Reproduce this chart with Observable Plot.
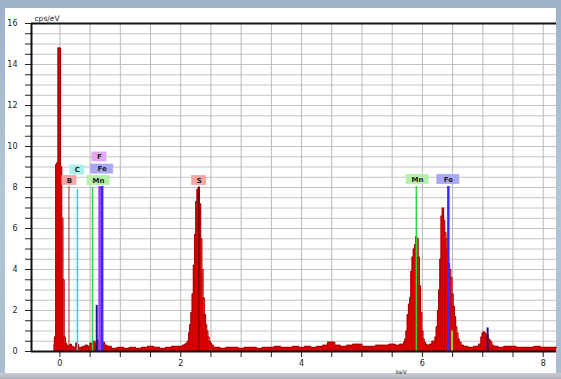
<!DOCTYPE html>
<html>
<head>
<meta charset="utf-8">
<script src="https://cdn.jsdelivr.net/npm/d3@7"></script>
<script src="https://cdn.jsdelivr.net/npm/@observablehq/plot@0.6"></script>
<style>
  html, body { margin: 0; padding: 0; }
  body { width: 561px; height: 379px; overflow: hidden; position: relative;
         background: linear-gradient(180deg, #9db2c9 0%, #b4c5d6 50%, #a9bccf 100%); font-family: "DejaVu Sans", sans-serif; }
  #panel { position: absolute; left: 5px; top: 8px; width: 551px; height: 365px; background: #ffffff; }
  #chart { position: absolute; left: 0; top: 0; }
  #bottombar { position: absolute; left: 0; top: 373px; width: 561px; height: 6px; background: linear-gradient(180deg, #c9cdd2, #aeb4bb); }
</style>
</head>
<body>
<div id="panel"></div>
<div id="bottombar"></div>
<div id="chart"></div>
<script>
// ---- data (keV, cps/eV) ----
const noisePeak = [
  [-0.10, 0.3], [-0.08, 0.7], [-0.06, 9.1], [-0.04, 9.2], [-0.02, 14.8], [0.00, 14.8],
  [0.02, 9.0], [0.04, 6.5], [0.06, 3.5], [0.08, 0.7], [0.10, 0.4]
];
const lowEnergy = [
  [0.12, 0.3], [0.14, 0.25], [0.16, 0.3], [0.18, 0.35], [0.20, 0.25], [0.24, 0.2],
  [0.28, 0.4], [0.30, 0.35], [0.32, 0.2], [0.36, 0.2], [0.40, 0.25], [0.44, 0.3],
  [0.48, 0.25], [0.52, 0.4], [0.56, 0.5], [0.60, 0.4], [0.64, 0.55], [0.68, 0.6],
  [0.72, 0.45], [0.76, 0.3], [0.80, 0.25], [0.90, 0.15], [1.00, 0.2], [1.10, 0.15],
  [1.20, 0.2], [1.30, 0.15], [1.40, 0.2], [1.50, 0.25], [1.60, 0.2], [1.70, 0.15],
  [1.80, 0.2], [1.90, 0.25], [2.00, 0.25]
];
const sulfurPeak = [
  [2.06, 0.3], [2.08, 0.35], [2.10, 0.4], [2.12, 0.5], [2.14, 0.9], [2.16, 1.3],
  [2.18, 1.9], [2.20, 2.8], [2.22, 4.2], [2.24, 5.7], [2.26, 7.3], [2.28, 7.9],
  [2.30, 8.0], [2.32, 7.2], [2.34, 5.5], [2.36, 4.0], [2.38, 2.6], [2.40, 1.8],
  [2.42, 1.3], [2.44, 1.0], [2.46, 0.7], [2.48, 0.5], [2.50, 0.4], [2.52, 0.3], [2.56, 0.2]
];
const midBackground = [
  [2.6, 0.2], [2.7, 0.15], [2.8, 0.2], [2.9, 0.2], [3.0, 0.15], [3.1, 0.2], [3.2, 0.2],
  [3.3, 0.15], [3.4, 0.2], [3.5, 0.2], [3.6, 0.25], [3.7, 0.2], [3.8, 0.2], [3.9, 0.25],
  [4.0, 0.2], [4.1, 0.25], [4.2, 0.2], [4.3, 0.25], [4.4, 0.3], [4.46, 0.45], [4.52, 0.45],
  [4.58, 0.3], [4.7, 0.25], [4.8, 0.3], [4.9, 0.35], [4.96, 0.35], [5.04, 0.25], [5.15, 0.25],
  [5.3, 0.3], [5.4, 0.3], [5.5, 0.35], [5.6, 0.3], [5.65, 0.35]
];
const manganesePeak = [
  [5.68, 0.35], [5.70, 0.45], [5.72, 0.6], [5.74, 1.0], [5.76, 1.8], [5.78, 2.3],
  [5.80, 2.6], [5.82, 3.9], [5.84, 4.6], [5.86, 5.0], [5.88, 5.2], [5.90, 5.6],
  [5.92, 5.5], [5.94, 4.6], [5.96, 3.2], [5.98, 1.9], [6.00, 1.0], [6.02, 0.6],
  [6.04, 0.45], [6.06, 0.35], [6.10, 0.3], [6.14, 0.35], [6.18, 0.5]
];
const ironPeak = [
  [6.20, 0.4], [6.22, 0.7], [6.24, 1.2], [6.26, 2.0], [6.28, 3.0], [6.30, 4.5],
  [6.32, 6.6], [6.34, 7.0], [6.36, 6.4], [6.38, 5.8], [6.40, 5.5], [6.42, 5.0],
  [6.44, 4.3], [6.46, 4.0], [6.48, 3.6], [6.50, 2.8], [6.52, 2.2], [6.54, 1.7],
  [6.56, 1.2], [6.58, 0.9], [6.60, 0.6], [6.62, 0.45], [6.66, 0.3]
];
const highEnergy = [
  [6.70, 0.25], [6.80, 0.2], [6.90, 0.25], [6.96, 0.35], [6.98, 0.7], [7.00, 0.9],
  [7.02, 0.95], [7.04, 0.9], [7.06, 0.75], [7.08, 0.8], [7.10, 0.6], [7.12, 0.55],
  [7.14, 0.45], [7.16, 0.3], [7.20, 0.25], [7.30, 0.2], [7.40, 0.25], [7.50, 0.25],
  [7.60, 0.2], [7.70, 0.2], [7.80, 0.2], [7.90, 0.25], [8.00, 0.2], [8.10, 0.2], [8.22, 0.2]
];

// element line markers
const lineElements = ["B", "C", "Mn", "Fe", "F", "Fe", "S", "Mn", "Fe", "Mn", "Fe"];
const lineEnergies = [0.15, 0.29, 0.54, 0.61, 0.66, 0.70, 2.30, 5.90, 6.43, 6.49, 7.08];
const lineHeights  = [8.05, 7.9, 8.0, 2.25, 8.05, 8.05, 8.05, 8.05, 8.05, 1.0, 1.15];
const lineKinds    = ["main", "main", "main", "minor", "main", "main", "main", "main", "main", "minor", "minor"];

// element labels
const labelTexts   = ["B", "C", "Mn", "Fe", "F", "S", "Mn", "Fe"];
const labelEnergies = [0.158, 0.29, 0.64, 0.70, 0.655, 2.305, 5.92, 6.43];
const labelLevels   = [8.34, 8.85, 8.34, 8.9, 9.49, 8.34, 8.39, 8.39];

// axis ticks
const xTicks = [0, 0.5, 1, 1.5, 2, 2.5, 3, 3.5, 4, 4.5, 5, 5.5, 6, 6.5, 7, 7.5, 8];
const xTickLabels = ["0", "", "", "", "2", "", "", "", "4", "", "", "", "6", "", "", "", "8"];
const yTicks = [0, 0.5, 1, 1.5, 2, 2.5, 3, 3.5, 4, 4.5, 5, 5.5, 6, 6.5, 7, 7.5, 8, 8.5,
                9, 9.5, 10, 10.5, 11, 11.5, 12, 12.5, 13, 13.5, 14, 14.5, 15, 15.5, 16];
const yTickLabels = yTicks.map(v => (v % 2 === 0 ? String(v) : ""));

// ---- build ----
const spectrum = [...noisePeak, ...lowEnergy, ...sulfurPeak, ...midBackground,
                  ...manganesePeak, ...ironPeak, ...highEnergy];
const lines = lineElements.map((el, i) => ({el, keV: lineEnergies[i], h: lineHeights[i], kind: lineKinds[i]}));
const labels = labelTexts.map((t, i) => ({t, keV: labelEnergies[i], y: labelLevels[i]}));

const xDomain = [-0.47, 8.22];
const pxPerKeV = 60.3, pxPerUnit = 20.44;

const lineColor = {B: "#b03030", C: "#30d0e0", Mn: "#30d830", Fe: "#3a2cff", F: "#a040ff", S: "#500000"};
const lineWidth = {B: 1, C: 1.5, Mn: 1.5, Fe: 2.5, F: 3, S: 1};
const minorColor = {Fe: "#1a1a80", Mn: "#a0d020"};
const boxColor = {B: "#f2a6a6", C: "#a8f0f0", Mn: "#b4f0a8", Fe: "#aaa8f2", F: "#e4a8f2", S: "#f2a6a6"};

const halfW = d => (3 + 4 * d.t.length) / pxPerKeV;
const halfH = 4.5 / pxPerUnit;

const chart = Plot.plot({
  width: 561,
  height: 379,
  marginLeft: 31,
  marginRight: 5,
  marginTop: 23,
  marginBottom: 28,
  style: {background: "transparent", fontFamily: "DejaVu Sans, sans-serif", fontSize: "8px", color: "#222"},
  x: {domain: xDomain, ticks: xTicks, tickFormat: (d, i) => xTickLabels[i], tickSize: 6, label: null},
  y: {domain: [0, 16], ticks: yTicks, tickFormat: (d, i) => yTickLabels[i], tickSize: 6, tickPadding: 8, label: null},
  marks: [
    Plot.ruleY(yTicks, {stroke: "#c4c4c4", strokeWidth: 1}),
    Plot.ruleX(xTicks, {stroke: "#b8b8b8", strokeWidth: 1}),
    Plot.areaY(spectrum, {x: d => d[0], y: d => d[1], curve: "step", fill: "#d60000"}),
    Plot.lineY(spectrum, {x: d => d[0], y: d => d[1], curve: "step", stroke: "#b00000", strokeWidth: 1.2}),
    Plot.ruleX(lines, {x: "keV", y1: 0, y2: "h",
      stroke: d => d.kind === "minor" ? minorColor[d.el] : lineColor[d.el],
      strokeWidth: d => d.kind === "minor" ? 2 : lineWidth[d.el]}),
    Plot.rect(labels, {x1: d => d.keV - halfW(d), x2: d => d.keV + halfW(d),
      y1: d => d.y - halfH, y2: d => d.y + halfH,
      fill: d => boxColor[d.t], stroke: d => boxColor[d.t], strokeWidth: 1, strokeOpacity: 0.8}),
    Plot.text(labels, {x: "keV", y: "y", text: "t", fill: "#202020", fontSize: 7, fontWeight: "bold"}),
    Plot.ruleY([0], {stroke: "#111", strokeWidth: 2}),
    Plot.ruleY([16], {stroke: "#111", strokeWidth: 2}),
    Plot.ruleX([xDomain[0]], {stroke: "#111", strokeWidth: 2}),
    Plot.text(["cps/eV"], {frameAnchor: "top-left", dx: 3, dy: -8, textAnchor: "start", fontSize: 7.5, fill: "#222", letterSpacing: "0.8px"}),
    Plot.text(["keV"], {x: 5.65, frameAnchor: "bottom", dy: 22, fontSize: 6, fill: "#333"})
  ]
});
document.getElementById("chart").appendChild(chart);
</script>
</body>
</html>
